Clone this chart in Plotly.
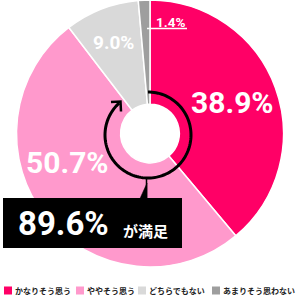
import numpy as np
import plotly.graph_objects as go

categories = ["かなりそう思う", "ややそう思う", "どちらでもない", "あまりそう思わない"]
values = [38.9, 50.7, 9.0, 1.4]
colors = ["#FF0066", "#FF99CC", "#D9D9D9", "#9E9E9E"]
summary_suffix = "が満足"

W = H = 300
def X(px):
    return px / W
def Y(py):
    return 1 - py / H

fig = go.Figure()
fig.add_trace(go.Pie(
    labels=categories, values=values, sort=False, direction="clockwise", rotation=0,
    hole=0.22, textinfo="none", hoverinfo="label+percent",
    marker=dict(colors=colors, line=dict(color="white", width=1.5)),
    domain=dict(x=[X(16), X(284)], y=[Y(267), Y(0)]),
    showlegend=False,
))

shapes = []
annotations = []

num_font = dict(family="Roboto, Arial, sans-serif", color="white", weight="bold")

# slice labels
label_pos = [(232, 102, 30), (67, 162, 30), (113, 43, 19), (171, 22.5, 13.5)]
for v, (px, py, fs) in zip(values, label_pos):
    annotations.append(dict(x=X(px), y=Y(py), xref="paper", yref="paper", text=f"{v}%",
                            showarrow=False, xanchor="center", yanchor="middle",
                            font=dict(size=fs, **num_font)))
# underline for smallest label
shapes.append(dict(type="line", xref="paper", yref="paper", x0=X(147), x1=X(187),
                   y0=Y(28.5), y1=Y(28.5), line=dict(color="white", width=1.5)))

# circular arrow
cx, cy, r = 148, 135, 43
ang = np.deg2rad(np.linspace(270, 588, 120))
pts = [(cx + r * np.cos(a), cy + r * np.sin(a)) for a in ang]
path = "M " + " L ".join(f"{X(p[0]):.5f},{Y(p[1]):.5f}" for p in pts)
shapes.append(dict(type="path", xref="paper", yref="paper", path=path,
                   line=dict(color="black", width=3)))
tip = (120.5, 101.5)
chev = [(tip[0] - 9.5, tip[1] + 0.5), tip, (tip[0] + 0.5, tip[1] + 10)]
shapes.append(dict(type="path", xref="paper", yref="paper",
                   path="M " + " L ".join(f"{X(a):.5f},{Y(b):.5f}" for a, b in chev),
                   line=dict(color="black", width=2.5)))
# pointer from box to arc
shapes.append(dict(type="line", xref="paper", yref="paper", x0=X(146.5), x1=X(146.5),
                   y0=Y(178), y1=Y(198), line=dict(color="black", width=1.5)))
tri = [(140, 198.5), (147, 198.5), (147, 183)]
shapes.append(dict(type="path", xref="paper", yref="paper",
                   path="M " + " L ".join(f"{X(a):.5f},{Y(b):.5f}" for a, b in tri) + " Z",
                   fillcolor="black", line=dict(color="black", width=0.5)))

# summary box
shapes.append(dict(type="rect", xref="paper", yref="paper", x0=X(3), x1=X(182),
                   y0=Y(248), y1=Y(198), fillcolor="black", line=dict(width=0)))
total = round(values[0] + values[1], 1)
annotations.append(dict(x=X(16), y=Y(223.5), xref="paper", yref="paper", text=f"{total}%",
                        showarrow=False, xanchor="left", yanchor="middle",
                        font=dict(size=33, **num_font)))
annotations.append(dict(x=X(121), y=Y(230), xref="paper", yref="paper", text=summary_suffix,
                        showarrow=False, xanchor="left", yanchor="middle",
                        font=dict(size=15, family="Noto Sans CJK JP", color="white", weight="bold")))

# legend
leg_sq = [4, 76, 138, 212]
for c, name, sx in zip(colors, categories, leg_sq):
    shapes.append(dict(type="rect", xref="paper", yref="paper", x0=X(sx), x1=X(sx + 8),
                       y0=Y(294.5), y1=Y(286.5), fillcolor=c, line=dict(width=0)))
    annotations.append(dict(x=X(sx + 9), y=Y(290.5), xref="paper", yref="paper", text=name,
                            showarrow=False, xanchor="left", yanchor="middle",
                            font=dict(size=8, family="Noto Sans CJK JP", color="#222222", weight="bold")))

fig.update_layout(width=W, height=H, margin=dict(l=0, r=0, t=0, b=0),
                  paper_bgcolor="white", plot_bgcolor="white",
                  shapes=shapes, annotations=annotations, showlegend=False)
fig.write_html("out.html")
